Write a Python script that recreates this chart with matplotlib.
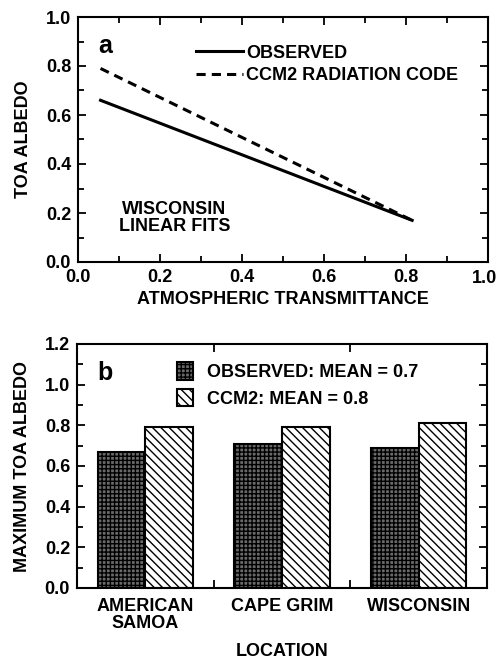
import matplotlib.pyplot as plt
from matplotlib.ticker import MultipleLocator, FixedLocator

plt.rcParams["font.family"] = ["Liberation Sans", "DejaVu Sans"]
plt.rcParams["font.weight"] = "bold"
plt.rcParams["hatch.linewidth"] = 1.0

# panel a: linear fit end points
fit_x = [0.055, 0.815]
observed_fit = [0.66, 0.17]
ccm2_fit = [0.79, 0.17]

# panel b: maximum TOA albedo per location
locations = ["AMERICAN\nSAMOA", "CAPE GRIM", "WISCONSIN"]
observed_max = [0.67, 0.71, 0.69]
ccm2_max = [0.79, 0.79, 0.81]

FS = 13


def style_axes(ax):
    for s in ax.spines.values():
        s.set_linewidth(1.5)
    ax.tick_params(which="both", direction="in", top=True, right=True,
                   width=1.3, labelsize=FS, pad=5)
    ax.tick_params(which="major", length=6)
    ax.tick_params(which="minor", length=4)


fig = plt.figure(figsize=(4.99, 6.59), dpi=100)
ax1 = fig.add_axes([78 / 499, 1 - 262 / 659, 410 / 499, 245 / 659])
ax2 = fig.add_axes([77 / 499, 1 - 588 / 659, 410 / 499, 244 / 659])

# ---- panel a ----
ax1.plot(fit_x, observed_fit, color="black", lw=2.2, label="OBSERVED")
ax1.plot(fit_x, ccm2_fit, color="black", lw=2.2, ls=(0, (3, 2)),
         label="CCM2 RADIATION CODE")
ax1.set_xlim(0, 1)
ax1.set_ylim(0, 1)
ax1.xaxis.set_major_locator(MultipleLocator(0.2))
ax1.xaxis.set_minor_locator(MultipleLocator(0.1))
ax1.yaxis.set_major_locator(MultipleLocator(0.2))
ax1.yaxis.set_minor_locator(MultipleLocator(0.1))
# the 1.0 label sits at the figure edge, so it is drawn separately a bit inward
ax1.xaxis.set_major_formatter(lambda v, p: "" if v > 0.99 else f"{v:.1f}")
ax1.yaxis.set_major_formatter(lambda v, p: f"{v:.1f}")
style_axes(ax1)
ax1.annotate("1.0", xy=(1.0, 0), xycoords=("data", "axes fraction"),
             xytext=(-2.5, -5.5), textcoords="offset points",
             ha="center", va="top", fontsize=FS, fontweight="bold",
             annotation_clip=False)
ax1.set_xlabel("ATMOSPHERIC TRANSMITTANCE", fontsize=FS, fontweight="bold", labelpad=4)
ax1.set_ylabel("TOA ALBEDO", fontsize=FS, fontweight="bold", labelpad=10)
ax1.text(0.05, 0.93, "a", transform=ax1.transAxes, fontsize=18,
         fontweight="bold", va="top")
ax1.text(0.235, 0.18, "WISCONSIN\nLINEAR FITS", ha="center", va="center",
         fontsize=FS, fontweight="bold", linespacing=1.0)
ax1.legend(loc="upper left", bbox_to_anchor=(0.27, 0.917), frameon=False,
           fontsize=FS, handlelength=2.6, handletextpad=0.2,
           labelspacing=0.3, borderaxespad=0)

# ---- panel b ----
pos = list(range(1, len(locations) + 1))
w = 0.35
ax2.bar([p - w / 2 for p in pos], observed_max, width=w, color="#6a6a6a",
        edgecolor="black", hatch="++++", linewidth=1.5,
        label="OBSERVED: MEAN = 0.7")
ax2.bar([p + w / 2 for p in pos], ccm2_max, width=w, color="white",
        edgecolor="black", hatch="\\\\\\\\", linewidth=1.5,
        label="CCM2: MEAN = 0.8")
ax2.set_xlim(0.5, 3.5)
ax2.set_ylim(0, 1.2)
ax2.set_xticks(pos)
ax2.set_xticklabels(locations, fontsize=FS, fontweight="bold")
ax2.xaxis.set_minor_locator(FixedLocator([1.5, 2.5]))
ax2.yaxis.set_major_locator(MultipleLocator(0.2))
ax2.yaxis.set_minor_locator(MultipleLocator(0.1))
ax2.yaxis.set_major_formatter(lambda v, p: f"{v:.1f}")
style_axes(ax2)
ax2.tick_params(axis="x", which="major", length=0, pad=7)
ax2.tick_params(axis="x", which="minor", length=6)
for lbl in ax2.get_xticklabels():
    lbl.set_linespacing(1.0)
ax2.set_xlabel("LOCATION", fontsize=FS, fontweight="bold", labelpad=8)
ax2.set_ylabel("MAXIMUM TOA ALBEDO", fontsize=FS, fontweight="bold", labelpad=10)
ax2.text(0.05, 0.93, "b", transform=ax2.transAxes, fontsize=18,
         fontweight="bold", va="top")
ax2.legend(loc="upper left", bbox_to_anchor=(0.227, 0.955), frameon=False,
           fontsize=FS, handlelength=0.85, handleheight=1.1,
           handletextpad=0.8, labelspacing=0.45, borderaxespad=0)

fig.savefig("out.png", dpi=100)
